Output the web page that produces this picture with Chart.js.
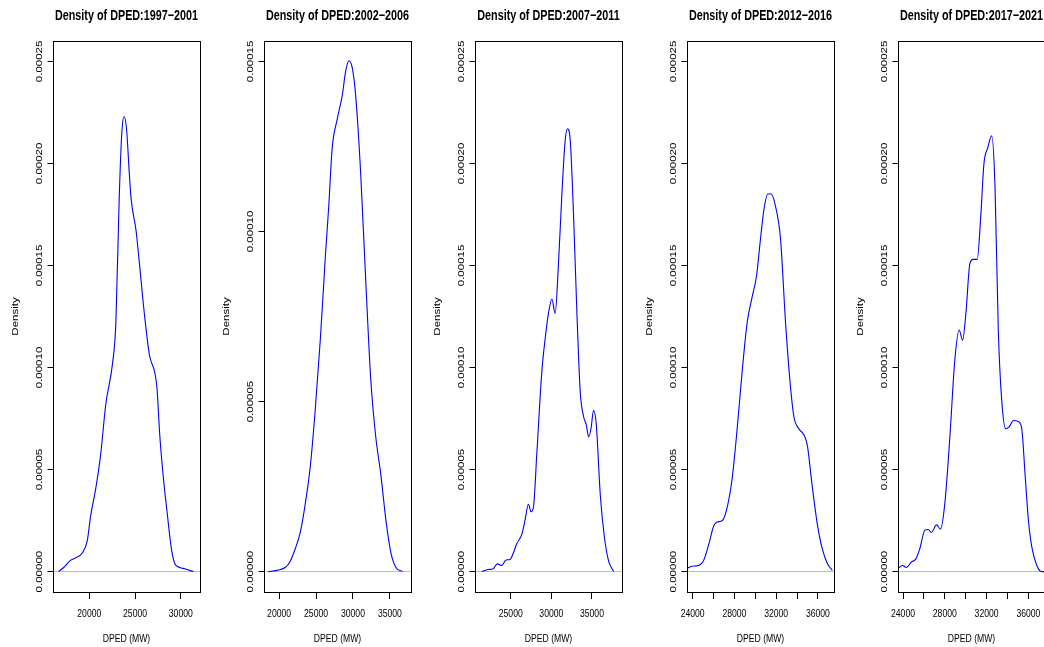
<!DOCTYPE html>
<html>
<head>
<meta charset="utf-8">
<script src="https://cdn.jsdelivr.net/npm/chart.js@4/dist/chart.umd.min.js"></script>
<style>
  html, body { margin: 0; padding: 0; background: #fff; overflow: hidden; }
  #wrap { position: relative; width: 1044px; height: 647px; overflow: hidden; }
  canvas { position: absolute; top: 0; }
</style>
</head>
<body>
<div id="wrap"></div>
<script>
// period labels for the five panels
const periods = ["1997−2001", "2002−2006", "2007−2011", "2012−2016", "2017−2021"];

// density curves (DPED in MW, density)
const x1997 = [16644, 17196, 17936, 18488, 19227, 19779, 20144, 20696, 21248, 21800, 22539, 22903, 23268, 23566, 23820, 24085, 24372, 24560, 25112, 25476, 26028, 26580, 27132, 27397, 27684, 28059, 28500, 28975, 29340, 29892, 30444, 31371];
const d1997 = [0, 2.0e-6, 5.5e-6, 6.7e-6, 9.1e-6, 1.52e-5, 2.73e-5, 4.05e-5, 5.77e-5, 8.2e-5, 1.02e-4, 1.22e-4, 1.83e-4, 2.16e-4, 2.23e-4, 2.16e-4, 1.95e-4, 1.83e-4, 1.67e-4, 1.51e-4, 1.26e-4, 1.06e-4, 9.8e-5, 9.0e-5, 6.8e-5, 4.76e-5, 2.93e-5, 1.11e-5, 4.0e-6, 2.0e-6, 1.4e-6, 0];

const x2002 = [18541, 19686, 20818, 21500, 22182, 22864, 23546, 24228, 24910, 25592, 26274, 26725, 27188, 27870, 28552, 29002, 29452, 29916, 30366, 31048, 31730, 32412, 33094, 33776, 34458, 35140, 35822, 36736];
const d2002 = [0, 3.6e-7, 1.2e-6, 3.0e-6, 6.7e-6, 1.15e-5, 2.0e-5, 3.1e-5, 4.8e-5, 6.86e-5, 9.3e-5, 1.075e-4, 1.245e-4, 1.33e-4, 1.40e-4, 1.47e-4, 1.502e-4, 1.48e-4, 1.40e-4, 1.17e-4, 8.56e-5, 5.65e-5, 3.95e-5, 2.85e-5, 1.52e-5, 5.5e-6, 1.2e-6, 0];

const x2007 = [21419, 22234, 22851, 23345, 23889, 24420, 24914, 25321, 25741, 26359, 26766, 27173, 27507, 27791, 28211, 28829, 29236, 29644, 30064, 30471, 30879, 31299, 31706, 31990, 32324, 32731, 33151, 33559, 33966, 34300, 34584, 34880, 35201, 35535, 36029, 36523, 37054, 37671];
const d2007 = [0, 1.0e-6, 1.4e-6, 3.8e-6, 3.0e-6, 5.7e-6, 5.9e-6, 9.1e-6, 1.36e-5, 1.82e-5, 2.53e-5, 3.3e-5, 2.93e-5, 3.14e-5, 5.77e-5, 9.8e-5, 1.14e-4, 1.265e-4, 1.336e-4, 1.265e-4, 1.51e-4, 1.85e-4, 2.115e-4, 2.17e-4, 2.115e-4, 1.75e-4, 1.265e-4, 8.8e-5, 7.6e-5, 7.2e-5, 6.6e-5, 7.0e-5, 7.9e-5, 7.2e-5, 3.74e-5, 1.72e-5, 5.1e-6, 0];

const x2012 = [23395, 23942, 24576, 25056, 25536, 26016, 26342, 26822, 27302, 27782, 28262, 28742, 29222, 29702, 30115, 30499, 30816, 31200, 31526, 31939, 32419, 32899, 33312, 33696, 34176, 34656, 34982, 35462, 35942, 36422, 36902, 37382];
const d2012 = [1.4e-6, 2.6e-6, 3.0e-6, 5.5e-6, 1.32e-5, 2.23e-5, 2.43e-5, 2.49e-5, 3.14e-5, 4.55e-5, 6.98e-5, 9.8e-5, 1.22e-4, 1.346e-4, 1.447e-4, 1.63e-4, 1.77e-4, 1.85e-4, 1.85e-4, 1.79e-4, 1.63e-4, 1.22e-4, 9.4e-5, 7.6e-5, 7.0e-5, 6.7e-5, 6.2e-5, 4.15e-5, 2.33e-5, 1.11e-5, 4.0e-6, 6e-7];

const x2017 = [23520, 23942, 24326, 24806, 25219, 25603, 26083, 26400, 26726, 27206, 27590, 28003, 28483, 28963, 29376, 29702, 30019, 30403, 30720, 31104, 31430, 31747, 32102, 32486, 32803, 33120, 33446, 33830, 34176, 34560, 35040, 35366, 35683, 36000, 36326, 36806, 37286, 37700];
const d2017 = [1.4e-6, 3.0e-6, 2.0e-6, 4.7e-6, 6.1e-6, 1.11e-5, 2.02e-5, 2.06e-5, 1.92e-5, 2.29e-5, 2.08e-5, 3.34e-5, 6.58e-5, 1.04e-4, 1.184e-4, 1.133e-4, 1.265e-4, 1.51e-4, 1.53e-4, 1.53e-4, 1.73e-4, 2.0e-4, 2.075e-4, 2.135e-4, 1.89e-4, 1.184e-4, 8.4e-5, 7.0e-5, 7.1e-5, 7.4e-5, 7.35e-5, 7.0e-5, 4.76e-5, 2.53e-5, 1.21e-5, 3.0e-6, 0, 0];

// tick values
const yTicksWide = [0, 0.00005, 0.0001, 0.00015, 0.0002, 0.00025];
const yTicksNarrow = [0, 0.00005, 0.0001, 0.00015];
const xTicks1 = [20000, 25000, 30000];
const xTicks2 = [20000, 25000, 30000, 35000];
const xTicks3 = [25000, 30000, 35000];
const xTicks4 = [24000, 26000, 28000, 30000, 32000, 34000, 36000];
const xLabels4 = [24000, 28000, 32000, 36000];

const panels = [
  { xs: x1997, ys: d1997, xt: xTicks1, xl: xTicks1, yt: yTicksWide, xmin: 16030, xmax: 32100, ymin: -0.00001, ymax: 0.00026 },
  { xs: x2002, ys: d2002, xt: xTicks2, xl: xTicks2, yt: yTicksNarrow, xmin: 17955, xmax: 37860, ymin: -0.000006, ymax: 0.000156 },
  { xs: x2007, ys: d2007, xt: xTicks3, xl: xTicks3, yt: yTicksWide, xmin: 20600, xmax: 38700, ymin: -0.00001, ymax: 0.00026 },
  { xs: x2012, ys: d2012, xt: xTicks4, xl: xLabels4, yt: yTicksWide, xmin: 23460, xmax: 37540, ymin: -0.00001, ymax: 0.00026 },
  { xs: x2017, ys: d2017, xt: xTicks4, xl: xLabels4, yt: yTicksWide, xmin: 23520, xmax: 37590, ymin: -0.00001, ymax: 0.00026 }
];
const lefts = [0, 211, 422, 634, 845];

const FONT = '"Liberation Sans", Arial, Helvetica, sans-serif';
const SQUEEZE = 0.75; // text in the source figure is narrowed horizontally

// narrow every piece of text in screen x, around its anchor point
const squeezeText = {
  id: 'squeezeText',
  beforeInit(chart) {
    const ctx = chart.ctx;
    const fill = ctx.fillText.bind(ctx);
    ctx.fillText = function (text, x, y) {
      const m = ctx.getTransform();
      const p = m.transformPoint(new DOMPoint(x, y));
      ctx.save();
      ctx.setTransform(new DOMMatrix().translate(p.x, p.y).scale(SQUEEZE, 1).translate(-p.x, -p.y).multiply(m));
      fill(text, x, y);
      ctx.restore();
    };
  }
};

// frame around the plot region + rotated y tick labels (R style)
const rFrame = {
  id: 'rFrame',
  afterDraw(chart) {
    const { ctx, chartArea: a } = chart;
    const y = chart.scales.y;
    ctx.save();
    ctx.strokeStyle = '#000';
    ctx.lineWidth = 1;
    ctx.strokeRect(Math.round(a.left) + 0.5, Math.round(a.top) + 0.5,
                   Math.round(a.right - a.left), Math.round(a.bottom - a.top));
    ctx.fillStyle = '#000';
    ctx.font = '11.5px ' + FONT;
    ctx.textAlign = 'center';
    ctx.textBaseline = 'middle';
    y.ticks.forEach(t => {
      ctx.save();
      ctx.translate(a.left - 13.7, y.getPixelForValue(t.value));
      ctx.rotate(-Math.PI / 2);
      ctx.fillText(t.value.toFixed(5), 0, 0);
      ctx.restore();
    });
    ctx.restore();
  }
};

const wrap = document.getElementById('wrap');

panels.forEach((p, i) => {
  const cv = document.createElement('canvas');
  cv.width = 211;
  cv.height = 647;
  cv.style.left = lefts[i] + 'px';
  wrap.appendChild(cv);

  new Chart(cv, {
    type: 'line',
    data: {
      datasets: [{
        data: p.xs.map((v, j) => ({ x: v, y: p.ys[j] })),
        borderColor: '#0000ff',
        borderWidth: 1.1,
        pointRadius: 0,
        cubicInterpolationMode: 'monotone',
        fill: false
      }]
    },
    options: {
      responsive: false,
      animation: false,
      devicePixelRatio: 1,
      events: [],
      layout: { padding: { left: 0, right: 11, top: 0, bottom: 0 } },
      plugins: {
        legend: { display: false },
        tooltip: { enabled: false },
        title: {
          display: true,
          text: 'Density of DPED:' + periods[i],
          color: '#000',
          fullSize: false,
          font: { family: FONT, size: 14.4, weight: 'bold', lineHeight: 1.2 },
          padding: { top: 7.4, bottom: 16.3 }
        }
      },
      scales: {
        x: {
          type: 'linear',
          min: p.xmin,
          max: p.xmax,
          afterBuildTicks: s => { s.ticks = p.xt.map(v => ({ value: v })); },
          afterFit: s => { s.height = 55; s.paddingLeft = 0; s.paddingRight = 0; },
          ticks: {
            color: '#000',
            font: { family: FONT, size: 11.5, lineHeight: 1.2 },
            padding: 7.6,
            maxRotation: 0,
            autoSkip: false,
            callback: v => p.xl.includes(v) ? String(v) : ''
          },
          grid: { display: true, drawOnChartArea: false, drawTicks: true, tickLength: 7, tickColor: '#000' },
          border: { display: false },
          title: {
            display: true,
            text: 'DPED (MW)',
            color: '#000',
            font: { family: FONT, size: 11.5, lineHeight: 1.2 },
            padding: { top: 0, bottom: 1.6 }
          }
        },
        y: {
          type: 'linear',
          min: p.ymin,
          max: p.ymax,
          afterBuildTicks: s => { s.ticks = p.yt.map(v => ({ value: v })); },
          afterFit: s => { s.width = 53; s.paddingTop = 0; s.paddingBottom = 0; },
          ticks: { display: false },
          grid: {
            display: true,
            drawOnChartArea: true,
            drawTicks: true,
            tickLength: 5.5,
            tickColor: '#000',
            color: c => (c.tick && c.tick.value === 0) ? '#bebebe' : 'rgba(0,0,0,0)'
          },
          border: { display: false },
          title: {
            display: true,
            text: 'Density',
            color: '#000',
            font: { family: FONT, size: 11.5, lineHeight: 1.2 },
            padding: { top: 9.1, bottom: 0 }
          }
        }
      }
    },
    plugins: [squeezeText, rFrame]
  });
});
</script>
</body>
</html>
